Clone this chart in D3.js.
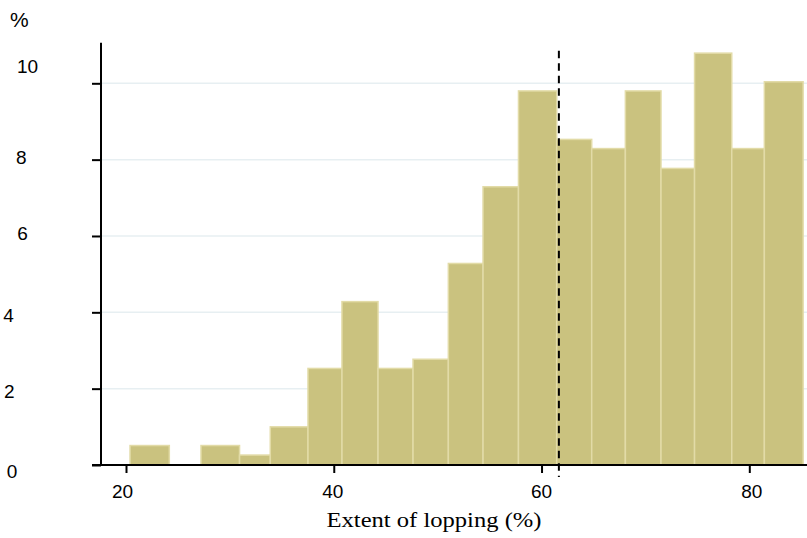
<!DOCTYPE html>
<html>
<head>
<meta charset="utf-8">
<script src="https://cdn.jsdelivr.net/npm/d3@7"></script>
<style>
  html, body { margin: 0; padding: 0; background: #fff; }
  svg { display: block; }
</style>
</head>
<body>
<div id="chart"></div>
<script>
// ---- Data ----
const binEdges = [20.39, 24.17, 27.22, 30.93, 33.89, 37.52, 40.79, 44.26, 47.63, 51.03,
                  54.37, 57.78, 61.46, 64.83, 68.07, 71.50, 74.73, 78.31, 81.45, 85.18];
const percents = [0.51, 0, 0.51, 0.26, 1.00, 2.53, 4.28, 2.53, 2.77, 5.28,
                  7.29, 9.80, 8.53, 8.29, 9.80, 7.77, 10.79, 8.29, 10.04];
const meanValue = 61.67;
const xTicks = [20, 40, 60, 80];
const yTicks = [0, 2, 4, 6, 8, 10];
const xTitle = "Extent of lopping (%)";
const yTitle = "%";

// ---- Layout / style (not data) ----
const W = 807, H = 538;
const axisX = 101, axisY = 465;
const yLabelPos = [ // [left x, baseline offset from tick]
  [6.7, 12.5], [4, 8.5], [3.3, 9.5], [17.3, 4], [16, 4], [17, -11]
];
const xLabelDx = [-4, -1.5, -0.5, 2];

const svg = d3.select("#chart").append("svg")
  .attr("width", W).attr("height", H)
  .style("background", "#fff");

const x = d3.scaleLinear().domain([20, 80]).range([126, 749.3]);
const y = d3.scaleLinear().domain([0, 10]).range([axisY, 83.3]);

const bins = percents.map((v, i) => ({x0: binEdges[i], x1: binEdges[i + 1], v}));

// gridlines
svg.append("g").selectAll("line")
  .data(yTicks.filter(t => t > 0))
  .join("line")
  .attr("x1", axisX).attr("x2", W)
  .attr("y1", d => y(d)).attr("y2", d => y(d))
  .attr("stroke", "#e7eff2").attr("stroke-width", 1.5);

// bars
svg.append("g").selectAll("rect")
  .data(bins.filter(b => b.v > 0))
  .join("rect")
  .attr("x", d => x(d.x0))
  .attr("width", d => x(d.x1) - x(d.x0))
  .attr("y", d => y(d.v))
  .attr("height", d => y(0) - y(d.v))
  .attr("fill", "#cac27f")
  .attr("stroke", "#e2dba7")
  .attr("stroke-width", 1.5);

// mean line
svg.append("line")
  .attr("x1", x(meanValue)).attr("x2", x(meanValue))
  .attr("y1", y(10.85)).attr("y2", y(0) + 12)
  .attr("stroke", "#000").attr("stroke-width", 2)
  .attr("stroke-dasharray", "7.5,5");

// y axis
const yAxis = svg.append("g")
  .attr("transform", `translate(${axisX},0)`)
  .call(d3.axisLeft(y).tickValues(yTicks).tickSize(9).tickSizeOuter(0));
yAxis.select(".domain").remove();
yAxis.selectAll(".tick line").attr("stroke", "#000").attr("stroke-width", 2);
yAxis.selectAll(".tick text")
  .attr("text-anchor", "start")
  .attr("x", (d, i) => yLabelPos[i][0] - axisX)
  .attr("y", (d, i) => yLabelPos[i][1])
  .attr("dy", null)
  .style("font-family", "'Liberation Sans', Arial, sans-serif")
  .style("font-size", "19px")
  .attr("fill", "#000");
yAxis.append("line")
  .attr("x1", 0).attr("x2", 0)
  .attr("y1", y(11.06)).attr("y2", y(0))
  .attr("stroke", "#000").attr("stroke-width", 2);

// x axis
const xAxis = svg.append("g")
  .attr("transform", `translate(0,${axisY})`)
  .call(d3.axisBottom(x).tickValues(xTicks).tickSize(8).tickSizeOuter(0));
xAxis.select(".domain").remove();
xAxis.selectAll(".tick line").attr("stroke", "#000").attr("stroke-width", 2);
xAxis.selectAll(".tick text")
  .attr("x", (d, i) => xLabelDx[i])
  .attr("y", 33).attr("dy", null)
  .style("font-family", "'Liberation Sans', Arial, sans-serif")
  .style("font-size", "19px")
  .attr("fill", "#000");
xAxis.append("line")
  .attr("x1", axisX - 9).attr("x2", W)
  .attr("y1", 0).attr("y2", 0)
  .attr("stroke", "#000").attr("stroke-width", 2);

// titles
svg.append("text")
  .attr("x", 434).attr("y", 527)
  .attr("text-anchor", "middle")
  .attr("textLength", 215).attr("lengthAdjust", "spacingAndGlyphs")
  .style("font-family", "'Liberation Serif', 'Times New Roman', serif")
  .style("font-size", "21px")
  .text(xTitle);

svg.append("text")
  .attr("x", 10).attr("y", 27)
  .style("font-family", "'Liberation Sans', Arial, sans-serif")
  .style("font-size", "21px")
  .text(yTitle);
</script>
</body>
</html>
